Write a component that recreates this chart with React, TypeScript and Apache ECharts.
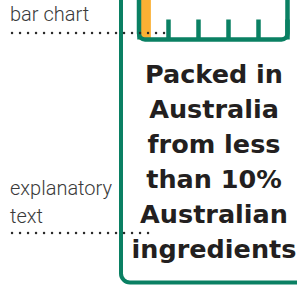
import React, { useEffect, useRef } from "react";
import * as echarts from "echarts";

const categories = ["Australian ingredients"];
const shareValues = [8];
const axisMin = 0;
const axisMax = 100;
const tickInterval = 20;
const statementLines = ["Packed in", "Australia", "from less", "than 10%", "Australian", "ingredients"];
const calloutLabels = ["bar chart", "explanatory\ntext"];

const GREEN = "#0a8063";
const ORANGE = "#fbb034";
const INK = "#231f20";
const GREY = "#3a3a3a";

export default function App() {
  const ref = useRef<HTMLDivElement>(null);
  useEffect(() => {
    if (!ref.current) return;
    const chart = echarts.init(ref.current, undefined, { renderer: "svg" });
    chart.setOption({
      animation: false,
      grid: { left: 139, right: 9.5, top: -20, bottom: 247.5, containLabel: false },
      xAxis: {
        type: "value",
        min: axisMin,
        max: axisMax,
        interval: tickInterval,
        axisLine: { show: false },
        axisLabel: { show: false },
        splitLine: { show: false },
        axisTick: { show: true, inside: true, length: 20, lineStyle: { color: GREEN, width: 4.5 } },
      },
      yAxis: {
        type: "category",
        data: categories,
        show: false,
      },
      series: [
        {
          type: "bar",
          data: shareValues,
          barWidth: "100%",
          itemStyle: { color: ORANGE },
          silent: true,
          z: 2,
        },
      ],
      graphic: [
        {
          type: "rect",
          z: 10,
          shape: { x: 139, y: -20, width: 148.5, height: 59.5, r: 6 },
          style: { fill: "none", stroke: GREEN, lineWidth: 4.5 },
        },
        {
          type: "rect",
          z: 10,
          shape: { x: 121, y: -20, width: 220, height: 302.5, r: 9 },
          style: { fill: "none", stroke: GREEN, lineWidth: 4 },
        },
        {
          type: "text",
          z: 11,
          x: 214,
          y: 161,
          style: {
            text: statementLines.join("\n"),
            font: "bold 25.5px 'DejaVu Sans'",
            fill: INK,
            align: "center",
            verticalAlign: "middle",
            lineHeight: 35,
          },
        },
        {
          type: "text",
          z: 11,
          x: 10,
          y: 14,
          style: {
            text: calloutLabels[0],
            font: "300 20px Roboto",
            fill: GREY,
            align: "left",
            verticalAlign: "middle",
          },
        },
        {
          type: "text",
          z: 11,
          x: 10,
          y: 202,
          style: {
            text: calloutLabels[1],
            font: "300 20px Roboto",
            fill: GREY,
            align: "left",
            verticalAlign: "middle",
            lineHeight: 28,
          },
        },
        {
          type: "line",
          z: 12,
          shape: { x1: 12, y1: 33, x2: 170, y2: 33 },
          style: { stroke: "#2a2a2a", lineWidth: 2.4, lineDash: [0.1, 7.9], lineCap: "round" },
        },
        {
          type: "line",
          z: 12,
          shape: { x1: 12, y1: 233, x2: 154, y2: 233 },
          style: { stroke: "#2a2a2a", lineWidth: 2.4, lineDash: [0.1, 7.9], lineCap: "round" },
        },
      ],
    });
    return () => chart.dispose();
  }, []);
  return (
    <div
      ref={ref}
      style={{ position: "fixed", left: 0, top: 0, width: 297, height: 287, background: "#fff" }}
    />
  );
}
